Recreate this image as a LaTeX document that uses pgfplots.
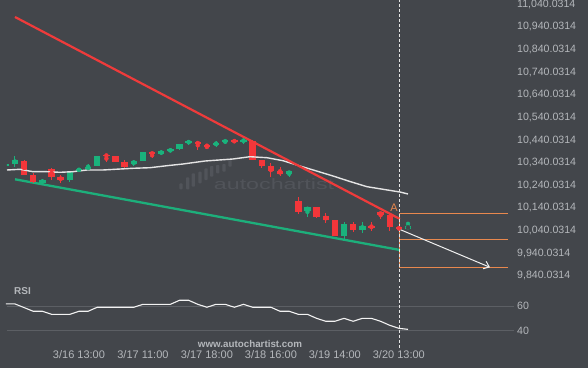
\documentclass[border=0pt]{standalone}
\usepackage{fontspec}
\setmainfont{Liberation Sans}
\usepackage{graphicx}
\usepackage{pgfplots}
\pgfplotsset{compat=1.18}
\usepackage{pgfplotstable}
\usetikzlibrary{arrows.meta}

\definecolor{bg}{HTML}{43464B}
\definecolor{txt}{HTML}{B4B7BB}
\definecolor{cg}{HTML}{1AB27C}
\definecolor{cr}{HTML}{F3363A}
\definecolor{tl}{HTML}{EF3B3B}
\definecolor{tg}{HTML}{1DAF7B}
\definecolor{orng}{HTML}{E8884E}
\definecolor{wm}{HTML}{51545A}
\definecolor{gridc}{HTML}{5C5F64}
\definecolor{maline}{HTML}{E4E4E4}

\pgfplotstableread{
i O H L C
0 10326.6 10335 10326 10334.1
1 10334 10369 10321 10352
4 10251 10266 10246 10263
7 10263 10305 10256 10302
8 10304 10315 10302 10312
9 10312 10334 10311 10321
10 10327 10370 10325 10369
14 10334 10353 10324 10349
15 10349 10389 10346 10386
17 10377 10396 10373 10393
18 10390 10403 10386 10399
19 10400 10423 10397 10422
20 10427 10442 10418 10436
23 10423 10436 10408 10426
24 10430 10442 10423 10440
26 10436 10450 10424 10439
31 10290 10304 10278 10303
33 10128 10146 10099 10145
37 10016 10077 9998 10069
39 10042 10078 10031 10060
}\greentab

\pgfplotstableread{
i O H L C
2 10347 10352 10285 10287
3 10285 10296 10251 10256
5 10312 10318 10263 10278
6 10277 10286 10251 10263
11 10374 10374 10342 10370
12 10369 10370 10343 10344
13 10344 10353 10315 10322
16 10386 10386 10359 10377
21 10433 10437 10397 10421
22 10419 10420 10399 10411
25 10437 10442 10427 10434
27 10437 10440 10352 10352
28 10352 10352 10315 10327
29 10324 10337 10278 10305
30 10303 10322 10282 10290
32 10171 10190 10115 10123
34 10144 10145 10094 10099
35 10106 10116 10072 10087
36 10087 10088 10015 10016
38 10069 10078 10035 10042
40 10060 10077 10039 10050
41 10123 10124 10092 10109
42 10109 10116 10039 10057
43 10054 10054 10045 10046
}\redtab

\pgfplotstableread{
i O H L C
44 10047 10078 10047 10061
}\curtab

\pgfplotstableread{
i ma
0.125 10307.6
1.55 10310.7
2.97 10300.1
4.50 10300.1
5.92 10297.4
7.35 10300.1
8.88 10307.6
10.63 10307.6
13.91 10315.1
15.77 10317.7
17.63 10326.6
19.38 10334.1
21.79 10347.3
24.85 10356.2
26.71 10366.3
28.57 10361.9
30.32 10348.7
32.18 10325.2
33.27 10312.0
35.79 10281.1
37.65 10256.7
39.51 10233.8
43.12 10210.3
44.0 10201.5
}\matab

\pgfplotstableread{
i r
0 61.9
1 61.9
3 55.9
4 55.9
5 53.4
7 53.4
8 55.9
9 55.9
10 59.2
14 59.2
15 61.6
18 61.6
19 64.9
20 64.9
21 61.6
22 59.2
23 61.6
24 61.6
25 59.2
26 61.6
27 59.2
29 59.2
30 55.9
31 55.9
32 53.4
33 53.4
34 50.1
35 47.7
36 47.7
37 50.1
38 47.7
39 50.1
40 50.1
41 47.7
42 44.4
43 41.9
44 41.1
}\rsitab

\begin{document}
\begin{tikzpicture}[x=1pt,y=1pt]
\fill[bg] (0,0) rectangle (588,368);
\useasboundingbox (0,0) rectangle (588,368);
% watermark
\foreach \x/\t/\b in {181/183.3/189.3, 187.7/177.3/189.3, 193.3/173.3/186.7, 200/171.7/183.3, 206/168.3/180, 211.7/166/176.7, 217.7/165/173.3, 224/164/171.7, 230/160/166.7}
  \fill[wm, rounded corners=0.8pt] ({\x-1.6},{368-\b}) rectangle ({\x+1.6},{368-\t});
\node[wm, anchor=base, inner sep=0pt, font=\fontsize{15}{15}\selectfont] at (274,178.7) {\scalebox{1.55}[1]{autochartist}};

\begin{scope}[shift={(7pt,86pt)}]
\begin{axis}[
  at={(0pt,0pt)}, anchor=south west, scale only axis,
  width=503pt, height=282pt,
  xmin=0.125, xmax=55.16, ymin=9812.6, ymax=11058.8,
  axis line style={draw=none},
  xtick=\empty,
  scaled y ticks=false, scaled x ticks=false,
  ytick={9840,9940,10040,10140,10240,10340,10440,10540,10640,10740,10840,10940,11040},
  yticklabels={{9,840.0314},{9,940.0314},{10,040.0314},{10,140.0314},{10,240.0314},{10,340.0314},{10,440.0314},{10,540.0314},{10,640.0314},{10,740.0314},{10,840.0314},{10,940.0314},{11,040.0314}},
  yticklabel pos=right,
  major tick length=0pt,
  yticklabel style={font=\fontsize{10.6}{12}\selectfont, text=txt, anchor=west, inner sep=0pt, xshift=7pt},
  clip=true,
]
\addplot[tg, line width=2.3pt, forget plot] coordinates {(1.0,10266.5) (43.12,9954.0)};
\addplot[cg, only marks, mark=none, forget plot, error bars/.cd, y dir=both, y explicit, error mark=none, error bar style={line width=1pt, cg}]
  table[x=i, y expr={(\thisrow{H}+\thisrow{L})/2}, y error expr={(\thisrow{H}-\thisrow{L})/2}] {\greentab};
\addplot[cr, only marks, mark=none, forget plot, error bars/.cd, y dir=both, y explicit, error mark=none, error bar style={line width=1pt, cr}]
  table[x=i, y expr={(\thisrow{H}+\thisrow{L})/2}, y error expr={(\thisrow{H}-\thisrow{L})/2}] {\redtab};
\addplot[cg, only marks, mark=none, forget plot, error bars/.cd, y dir=both, y explicit, error mark=none, error bar style={line width=1pt, cg}]
  table[x=i, y expr={(\thisrow{H}+\thisrow{C})/2}, y error expr={(\thisrow{H}-\thisrow{C})/2}] {\curtab};
\addplot[cg, only marks, mark=none, forget plot, error bars/.cd, y dir=both, y explicit, error mark=none, error bar style={line width=6.4pt, cg}]
  table[x=i, y expr={(\thisrow{O}+\thisrow{C})/2}, y error expr={max(abs(\thisrow{C}-\thisrow{O})/2,3)}] {\greentab};
\addplot[cr, only marks, mark=none, forget plot, error bars/.cd, y dir=both, y explicit, error mark=none, error bar style={line width=6.4pt, cr}]
  table[x=i, y expr={(\thisrow{O}+\thisrow{C})/2}, y error expr={max(abs(\thisrow{C}-\thisrow{O})/2,3)}] {\redtab};
\addplot[cg, only marks, mark=none, forget plot, error bars/.cd, y dir=both, y explicit, error mark=none, error bar style={line width=6.4pt, cg}]
  table[x=i, y expr={(\thisrow{O}+\thisrow{C})/2}, y error expr={abs(\thisrow{C}-\thisrow{O})/2}] {\curtab};
\addplot[bg, only marks, mark=none, forget plot, error bars/.cd, y dir=both, y explicit, error mark=none, error bar style={line width=4.4pt, bg}]
  table[x=i, y expr={(\thisrow{O}+\thisrow{C})/2}, y error expr={abs(\thisrow{C}-\thisrow{O})/2-4.4}] {\curtab};
\addplot[maline, line width=1.4pt, forget plot] table[x=i, y=ma] {\matab};
\addplot[tl, line width=2.2pt, forget plot] coordinates {(1.0,10983.7) (43.12,10091.0)};
\addplot[orng, line width=1pt, forget plot] coordinates {(43.06,10116.2) (54.94,10116.2)};
\addplot[orng, line width=1pt, forget plot] coordinates {(43.06,10001.3) (54.94,10001.3)};
\addplot[orng, line width=1pt, forget plot] coordinates {(43.06,9877.6) (54.94,9877.6)};
\addplot[orng, line width=1pt, forget plot] coordinates {(43.06,10116.2) (43.06,9877.6)};
\addplot[white!88!gray, line width=1pt, -{Straight Barb[length=5pt,width=8pt]}, forget plot] coordinates {(43.12,10044.6) (52.97,9877.6)};
\addplot[white!80!gray, line width=0.8pt, dash pattern=on 3pt off 2pt, forget plot] coordinates {(43.06,9812.6) (43.06,11058.8)};
\node[orng, font=\fontsize{11}{12}\selectfont, inner sep=0pt] at (axis cs:42.47,10141) {A};
\end{axis}
\end{scope}

\begin{scope}[shift={(7pt,20pt)}]
\begin{axis}[
  at={(0pt,0pt)}, anchor=south west, scale only axis,
  width=507pt, height=62pt,
  xmin=0.125, xmax=55.6, ymin=25.8, ymax=76.6,
  axis line style={draw=none},
  scaled y ticks=false, scaled x ticks=false,
  ytick={40,60}, yticklabels={40,60},
  ymajorgrids, grid style={gridc, line width=0.8pt},
  yticklabel pos=right,
  major tick length=0pt,
  yticklabel style={font=\fontsize{10.6}{12}\selectfont, text=txt, anchor=west, inner sep=0pt, xshift=3pt},
  xtick={8,15,22,29,36,43},
  xticklabels={3/16 13:00,3/17 11:00,3/17 18:00,3/18 16:00,3/19 14:00,3/20 13:00},
  xticklabel style={font=\fontsize{11}{12}\selectfont, text=txt, anchor=north, inner sep=0pt, yshift=-2pt},
  clip=false,
]
\addplot[white!90!gray, line width=1.1pt, forget plot] table[x=i, y=r] {\rsitab};
\addplot[white!80!gray, line width=0.8pt, dash pattern=on 3pt off 2pt, forget plot] coordinates {(43.06,25.8) (43.06,76.6)};
\end{axis}
\end{scope}

\node[txt, font=\bfseries\fontsize{10}{12}\selectfont, anchor=west, inner sep=0pt] at (14,77) {RSI};
\node[txt, font=\bfseries\fontsize{9.8}{12}\selectfont, inner sep=0pt] at (250,24) {www.autochartist.com};
\end{tikzpicture}
\end{document}
